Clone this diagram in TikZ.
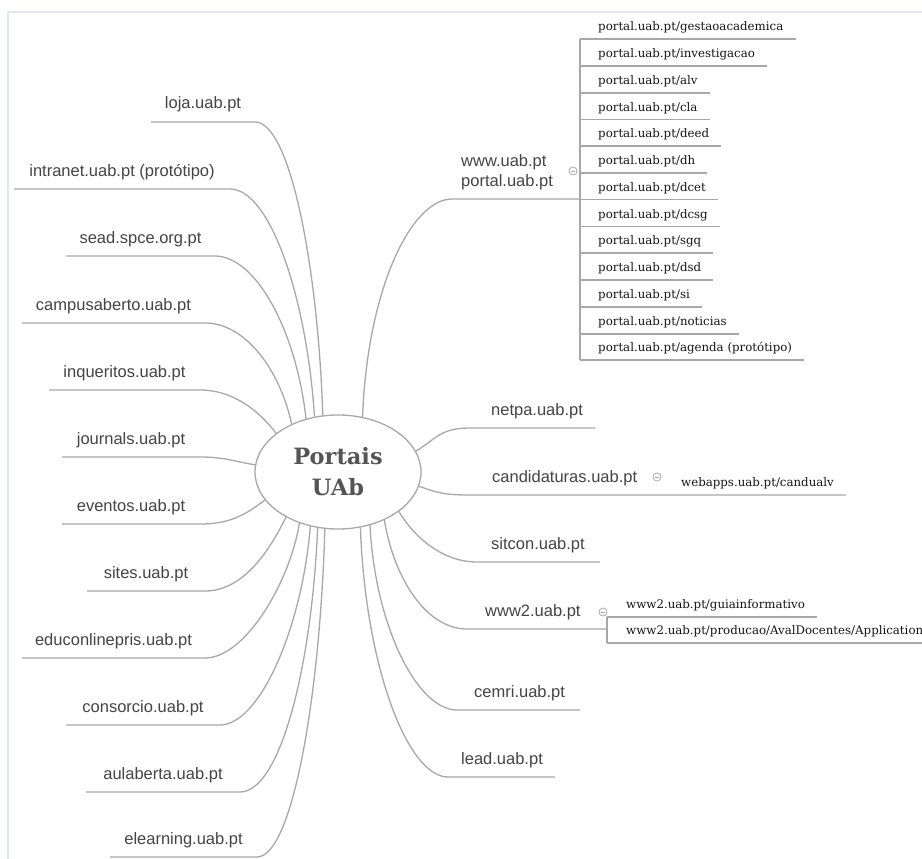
\documentclass[tikz,border=0pt]{standalone}
\usepackage{fontspec}
\setmainfont{Liberation Sans}
\newfontfamily\slabfont{DejaVu Serif}
\usetikzlibrary{shapes.geometric,calc}
\definecolor{txt}{HTML}{444444}
\definecolor{ln}{HTML}{A8A8A8}
\definecolor{framec}{HTML}{DDE7F2}
\definecolor{subtxt}{HTML}{151515}
\definecolor{ttl}{HTML}{555555}
\begin{document}
\begin{tikzpicture}[x=1pt,y=1pt,
  link/.style={draw=ln, line width=1.3pt},
  lbl/.style={font=\fontsize{16.5}{20}\selectfont, text=txt, inner sep=0pt},
  sub/.style={font=\slabfont\fontsize{11.8}{14}\selectfont, text=subtxt, inner sep=0pt, anchor=base west},
  tog/.style={draw=ln, line width=0.8pt, fill=white, circle, minimum size=8pt, inner sep=0pt,
    path picture={\draw[ln, line width=0.8pt] ([xshift=-2.2pt]path picture bounding box.center) -- ([xshift=2.2pt]path picture bounding box.center);}},
  hub/.style={ellipse, draw=ln, line width=1.3pt, fill=white, minimum width=166pt, minimum height=114pt,
    inner sep=0pt, align=center, font=\slabfont\bfseries\fontsize{22.5}{31}\selectfont, text=ttl}]
\useasboundingbox (0,0) rectangle (922,-859);
\clip (0,0) rectangle (922,-859);
\fill[white] (0,0) rectangle (922,-859);
\draw[framec, line width=2pt] (8,-12) rectangle (980,-920);

% central node
\node[hub] (c) at (338,-472) {Portais\\UAb};

% left branches
\foreach \nm/\txt/\lx/\kx/\yy/\ang/\ox/\oy/\kk in {
 loja/loja.uab.pt/151/255/122/105/-5/150/35,
 intranet/{intranet.uab.pt (protótipo)}/14/230/189/113/-8/120/40,
 sead/sead.spce.org.pt/66/215/256/121/-10/90/40,
 campus/campusaberto.uab.pt/22/205/323/134/-12/55/40,
 inq/inqueritos.uab.pt/49/200/390/148/-15/20/35,
 jour/journals.uab.pt/62/200/457/175/-20/3/25,
 even/eventos.uab.pt/62/200/524/201/-20/-15/30,
 sites/sites.uab.pt/87/205/591/221/-15/-30/40,
 educ/educonlinepris.uab.pt/22/205/658/233/-10/-60/40,
 cons/consorcio.uab.pt/66/220/725/243/-8/-100/40,
 aul/aulaberta.uab.pt/86/240/792/250/-6/-140/40,
 elea/elearning.uab.pt/110/257/857/257/-5/-170/35}
{
  \coordinate (\nm-k) at (\kx,-\yy);
  \coordinate (\nm-l) at (\lx,-\yy);
  \node[lbl, anchor=base] (\nm) at ({(\lx+\kx)/2},{13-\yy}) {\txt};
  \draw[link] (c.\ang) .. controls +(\ox,\oy) and +(\kk,0) .. (\nm-k) -- (\nm-l);
}

% right simple branches
\foreach \nm/\txt/\tx/\kx/\ex/\yy/\ang/\ox/\oy/\kk in {
 netpa/netpa.uab.pt/491/470/595/428/15/20/12/30,
 sitcon/sitcon.uab.pt/491/477/600/562/327/15/-25/35,
 cemri/cemri.uab.pt/474/457/580/710/301/5/-100/40,
 lead/lead.uab.pt/461/448/555/777/292/5/-140/40}
{
  \coordinate (\nm-k) at (\kx,-\yy);
  \coordinate (\nm-e) at (\ex,-\yy);
  \node[lbl, anchor=base west] (\nm) at (\tx,{13-\yy}) {\txt};
  \draw[link] (c.\ang) .. controls +(\ox,\oy) and +(-\kk,0) .. (\nm-k) -- (\nm-e);
}

% www / portal branch
\coordinate (www-k) at (452,-199);
\coordinate (www-e) at (580,-199);
\coordinate (brk-top) at (580,-39);
\coordinate (brk-bot) at (580,-360);
\node[lbl, anchor=base west] (www) at (461,-166) {www.uab.pt};
\node[lbl, anchor=base west] (portal) at (461,-186) {portal.uab.pt};
\draw[link] (c.66) .. controls +(5,130) and +(-40,0) .. (www-k) -- (www-e);
\draw[link] (brk-top) -- (brk-bot);
\foreach \s/\yy [count=\i] in {gestaoacademica/39, investigacao/66, alv/93, cla/119.5, deed/146,
  dh/173, dcet/199.5, dcsg/226.5, sgq/253, dsd/280, si/307, noticias/334, agenda (protótipo)/360}
{
  \node[sub] (pp\i) at (598,{8.5-\yy}) {portal.uab.pt/\s};
  \coordinate (pp\i-b) at (580,-\yy);
  \draw[link] (pp\i-b) -- ($(pp\i.base east)+(12,-8.5)$);
}
\node[tog] (tog1) at (573,-171) {};

% candidaturas branch
\coordinate (cand-k) at (470,-495);
\node[lbl, anchor=base west] (cand) at (492,-482) {candidaturas.uab.pt};
\node[sub] (webapps) at (681,-486.5) {webapps.uab.pt/candualv};
\draw[link] (c.350) .. controls +(20,-7) and +(-25,0) .. (cand-k) -- ($(webapps.base east)+(12,-8.5)$);
\node[tog] (tog2) at (657,-477) {};

% www2 branch
\coordinate (w2-k) at (467,-629);
\coordinate (w2-b) at (607,-629);
\coordinate (w2-t) at (607,-617);
\coordinate (w2-u) at (607,-643);
\coordinate (w2-r) at (940,-643);
\node[lbl, anchor=base west] (www2) at (485,-616) {www2.uab.pt};
\draw[link] (c.314) .. controls +(10,-60) and +(-40,0) .. (w2-k) -- (w2-b);
\draw[link] (w2-t) -- (w2-u);
\node[sub] (guia) at (626,-608.5) {www2.uab.pt/guiainformativo};
\draw[link] (w2-t) -- ($(guia.base east)+(12,-8.5)$);
\node[sub] (aval) at (626,-634.5) {www2.uab.pt/producao/AvalDocentes/Application};
\draw[link] (w2-u) -- (w2-r);
\node[tog] (tog3) at (603,-612) {};
\end{tikzpicture}
\end{document}
